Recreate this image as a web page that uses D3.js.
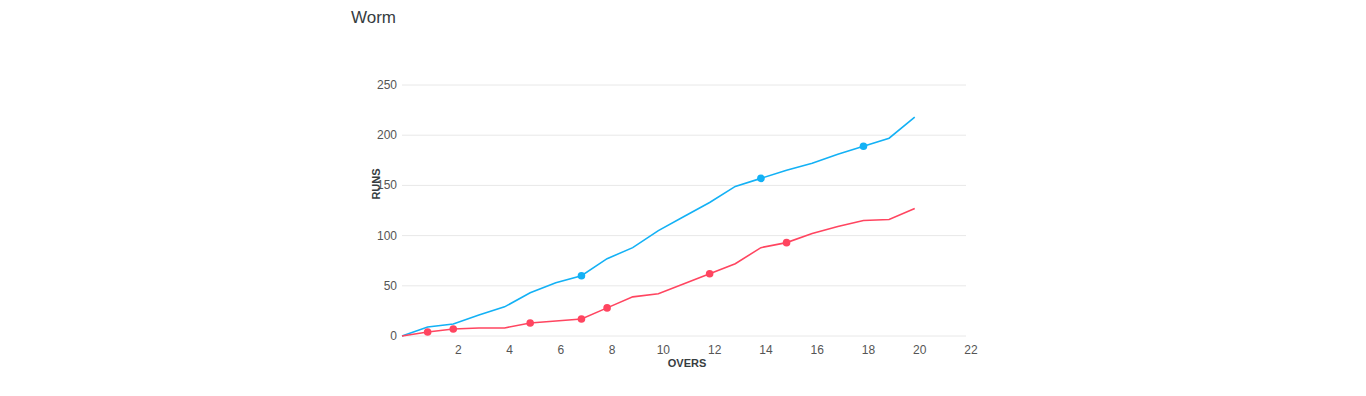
<!DOCTYPE html>
<html><head><meta charset="utf-8">
<script src="https://cdn.jsdelivr.net/npm/d3@7"></script>
<style>
body{margin:0;background:#fff;}
svg{display:block;font-family:"Liberation Sans",Arial,Helvetica,sans-serif;}
</style></head>
<body><svg id="c" width="1366" height="396"></svg>
<script>
const overs = [0,1,2,3,4,5,6,7,8,9,10,11,12,13,14,15,16,17,18,19,20];
const teamARuns = [0,9,12,21,29,43,53,60,77,88,105,119,133,149,157,165,172,181,189,197,218];
const teamBRuns = [0,4,7,8,8,13,15,17,28,39,42,52,62,72,88,93,102,109,115,116,127];
const teamAWickets = [7,14,18];
const teamBWickets = [1,2,5,7,8,12,15];
const xTicks = [2,4,6,8,10,12,14,16,18,20,22];
const yTicks = [0,50,100,150,200,250];

const svg = d3.select("#c");
const L=402, R=966, T=85, B=336;
const x = d3.scaleLinear().domain([0,22]).range([L,R]);
const y = d3.scaleLinear().domain([0,250]).range([B,T]);
const txt="#373d3f";

svg.append("text").attr("x",351).attr("y",23).attr("font-size",17).attr("fill",txt).text("Worm");

svg.append("g").selectAll("line").data(yTicks).join("line")
  .attr("x1",L).attr("x2",R).attr("y1",d=>y(d)).attr("y2",d=>y(d))
  .attr("stroke","#e8e8e8").attr("stroke-width",1);

svg.append("g").selectAll("text").data(yTicks).join("text")
  .attr("x",397).attr("y",d=>y(d)+4).attr("text-anchor","end")
  .attr("font-size",12).attr("fill","#555").text(d=>d);

svg.append("g").selectAll("text").data(xTicks).join("text")
  .attr("x",d=>x(d)+5).attr("y",354).attr("text-anchor","middle")
  .attr("font-size",12).attr("fill","#555").text(d=>d);

svg.append("text").attr("x",687).attr("y",367).attr("text-anchor","middle")
  .attr("font-size",11).attr("font-weight","bold").attr("fill",txt).text("OVERS");
svg.append("text").attr("transform","translate(380,184) rotate(-90)").attr("text-anchor","middle")
  .attr("font-size",11).attr("font-weight","bold").attr("fill",txt).text("RUNS");

const series=[
  {runs:teamARuns,wk:teamAWickets,color:"#13b1f5"},
  {runs:teamBRuns,wk:teamBWickets,color:"#ff4560"}
];
const line=d3.line().x((d,i)=>x(overs[i])).y(d=>y(d));
series.forEach(s=>{
  svg.append("path").attr("d",line(s.runs)).attr("fill","none")
    .attr("stroke",s.color).attr("stroke-width",1.6);
  svg.append("g").selectAll("circle").data(s.wk).join("circle")
    .attr("cx",d=>x(d)).attr("cy",d=>y(s.runs[overs.indexOf(d)])).attr("r",3.8)
    .attr("fill",s.color);
});
</script></body></html>
